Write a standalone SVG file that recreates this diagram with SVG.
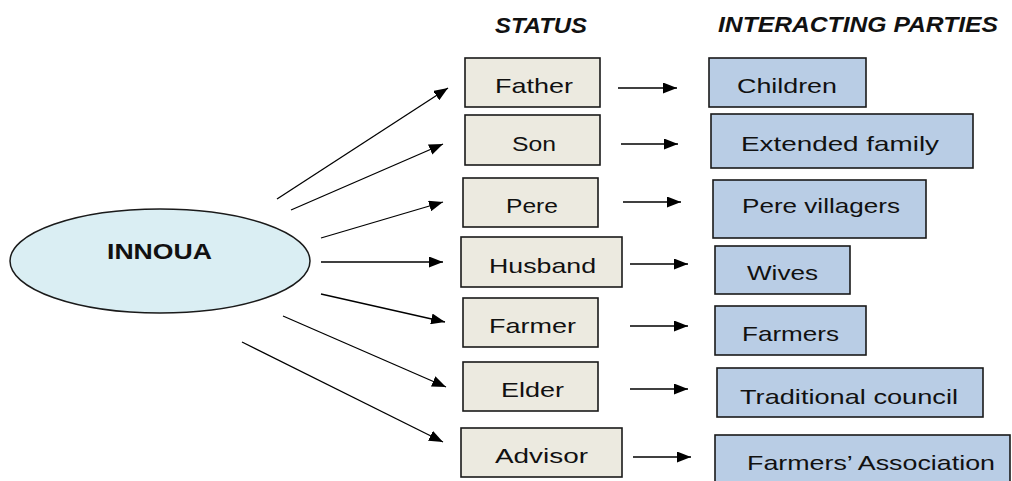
<svg xmlns="http://www.w3.org/2000/svg" width="1012" height="481" viewBox="0 0 1012 481">
<style>
.st{fill:#ECEAE0;stroke:#1a1a1a;stroke-width:1.6}
.pt{fill:#B9CDE5;stroke:#1a1a1a;stroke-width:1.6}
.lb{font-family:"Liberation Sans",Arial,sans-serif;font-size:21px;fill:#111}
.hd{font-family:"Liberation Sans",Arial,sans-serif;font-size:22px;font-weight:bold;font-style:italic;fill:#111}
.cn line{stroke:#000;stroke-width:1.3;marker-end:url(#ah)}
</style>
<defs>
<marker id="ah" markerUnits="userSpaceOnUse" markerWidth="14" markerHeight="11" refX="14" refY="5.5" orient="auto">
<path d="M0,0 L14,5.5 L0,11 z" fill="#000"/>
</marker>
</defs>
<rect width="1012" height="481" fill="#fff"/>
<text class="hd" x="495" y="33" textLength="92" lengthAdjust="spacingAndGlyphs">STATUS</text>
<text class="hd" x="718" y="32" textLength="280" lengthAdjust="spacingAndGlyphs">INTERACTING PARTIES</text>
<g id="innoua">
<ellipse cx="160" cy="261" rx="150" ry="52" fill="#DAEEF3" stroke="#1a1a1a" stroke-width="1.5"/>
<text x="107" y="259" font-family="Liberation Sans,Arial,sans-serif" font-weight="bold" font-size="22" fill="#111" textLength="105" lengthAdjust="spacingAndGlyphs">INNOUA</text>
</g>
<g id="father"><rect class="st" x="465" y="58" width="135" height="49"/><text class="lb" x="495" y="93" textLength="78" lengthAdjust="spacingAndGlyphs">Father</text></g>
<g id="son"><rect class="st" x="465" y="115" width="135" height="50"/><text class="lb" x="512" y="151" textLength="44" lengthAdjust="spacingAndGlyphs">Son</text></g>
<g id="pere"><rect class="st" x="463" y="178" width="135" height="49"/><text class="lb" x="506" y="213" textLength="52" lengthAdjust="spacingAndGlyphs">Pere</text></g>
<g id="husband"><rect class="st" x="461" y="237" width="161" height="50"/><text class="lb" x="489" y="273" textLength="107" lengthAdjust="spacingAndGlyphs">Husband</text></g>
<g id="farmer"><rect class="st" x="463" y="298" width="135" height="49"/><text class="lb" x="489" y="333" textLength="87" lengthAdjust="spacingAndGlyphs">Farmer</text></g>
<g id="elder"><rect class="st" x="463" y="362" width="135" height="49"/><text class="lb" x="501" y="397" textLength="63" lengthAdjust="spacingAndGlyphs">Elder</text></g>
<g id="advisor"><rect class="st" x="461" y="428" width="161" height="49"/><text class="lb" x="495" y="463" textLength="93" lengthAdjust="spacingAndGlyphs">Advisor</text></g>
<g id="children"><rect class="pt" x="709" y="58" width="157" height="49"/><text class="lb" x="737" y="93" textLength="100" lengthAdjust="spacingAndGlyphs">Children</text></g>
<g id="extended"><rect class="pt" x="711" y="114" width="262" height="54"/><text class="lb" x="741" y="151" textLength="198" lengthAdjust="spacingAndGlyphs">Extended family</text></g>
<g id="villagers"><rect class="pt" x="713" y="180" width="213" height="58"/><text class="lb" x="742" y="213" textLength="158" lengthAdjust="spacingAndGlyphs">Pere villagers</text></g>
<g id="wives"><rect class="pt" x="715" y="246" width="135" height="48"/><text class="lb" x="747" y="280" textLength="71" lengthAdjust="spacingAndGlyphs">Wives</text></g>
<g id="farmers"><rect class="pt" x="715" y="306" width="151" height="49"/><text class="lb" x="742" y="341" textLength="97" lengthAdjust="spacingAndGlyphs">Farmers</text></g>
<g id="council"><rect class="pt" x="717" y="368" width="266" height="49"/><text class="lb" x="740" y="404" textLength="218" lengthAdjust="spacingAndGlyphs">Traditional council</text></g>
<g id="association"><rect class="pt" x="715" y="435" width="295" height="50"/><text class="lb" x="747" y="470" textLength="248" lengthAdjust="spacingAndGlyphs">Farmers’ Association</text></g>
<g id="connectors" class="cn">
<line x1="277" y1="199" x2="448" y2="88"/>
<line x1="291" y1="210" x2="443" y2="144"/>
<line x1="321" y1="238" x2="443" y2="202"/>
<line x1="321" y1="262" x2="443" y2="262"/>
<line x1="321" y1="294" x2="445" y2="322"/>
<line x1="283" y1="316" x2="446" y2="387"/>
<line x1="242" y1="342" x2="443" y2="442"/>
<line x1="618" y1="88" x2="677" y2="88"/>
<line x1="621" y1="144" x2="678" y2="144"/>
<line x1="623" y1="202" x2="681" y2="202"/>
<line x1="630" y1="264" x2="688" y2="264"/>
<line x1="630" y1="326" x2="688" y2="326"/>
<line x1="630" y1="389" x2="688" y2="389"/>
<line x1="633" y1="457" x2="691" y2="457"/>
</g>
</svg>
